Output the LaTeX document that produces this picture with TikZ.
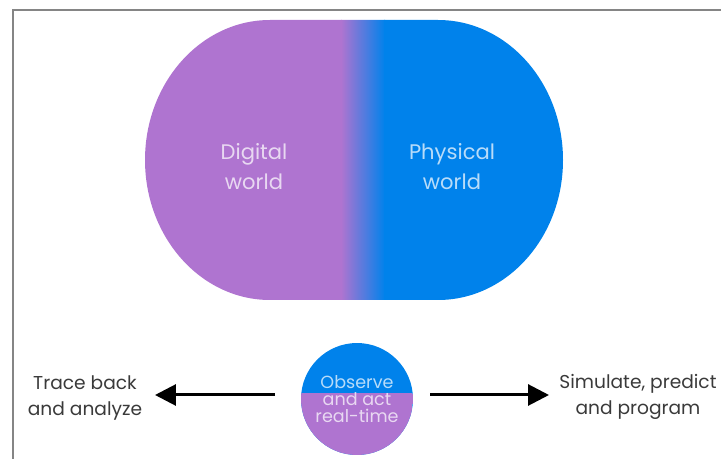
\documentclass[tikz,border=0pt]{standalone}
\usepackage{fontspec}
\setmainfont{Poppins}
\usetikzlibrary{arrows.meta,positioning}
\definecolor{digipurple}{HTML}{AF74D0}
\definecolor{physblue}{HTML}{0082EB}
\definecolor{framegray}{HTML}{858585}
\definecolor{labelgray}{HTML}{3A3A3A}
\begin{document}
\begin{tikzpicture}[x=0.02cm,y=-0.02cm,
  worldlabel/.style={text=white,text opacity=0.72,align=center,font=\fontsize{12}{17}\selectfont},
  sidelabel/.style={text=labelgray,align=center,font=\fontsize{10.6}{15.2}\selectfont},
  flow/.style={line width=0.06cm,-{Triangle[length=0.42cm,width=0.42cm]}}]
\useasboundingbox (0,0) rectangle (721,459);
\clip (0,0) rectangle (721,459);
% frame
\draw[framegray,line width=0.05cm] (13,470) -- (13,10) -- (730,10);
% the two worlds
\begin{scope}
\clip (270,20) -- (438,20) arc[start angle=-90,end angle=90,x radius=125,y radius=140]
  -- (270,300) arc[start angle=90,end angle=270,x radius=125,y radius=140] -- cycle;
\fill[digipurple] (140,15) rectangle (342,305);
\shade[left color=digipurple,right color=physblue] (341,15) rectangle (385,305);
\fill[physblue] (384,15) rectangle (570,305);
\end{scope}
\node[worldlabel] (digital) at (254,167) {Digital\\world};
\node[worldlabel] (physical) at (452,167) {Physical\\world};
% observe and act
\node[circle,minimum size=2.24cm,inner sep=0pt,fill=physblue,
  path picture={\fill[digipurple] ([yshift=0.12cm]path picture bounding box.west) rectangle (path picture bounding box.south east);},
  text=white,text opacity=0.72,align=center,font=\fontsize{10}{9.6}\selectfont] (obs) at (357,399) {Observe\\and act\\real-time};
\node[sidelabel] (trace) at (85,398) {Trace back\\and analyze};
\node[sidelabel] (sim) at (638,397) {Simulate, predict\\and program};
\coordinate (tracetail) at (275,395);
\coordinate (tracetip) at (155,395);
\coordinate (simtail) at (430,395);
\coordinate (simtip) at (549,395);
\draw[flow] (tracetail) -- (tracetip);
\draw[flow] (simtail) -- (simtip);
\end{tikzpicture}
\end{document}
